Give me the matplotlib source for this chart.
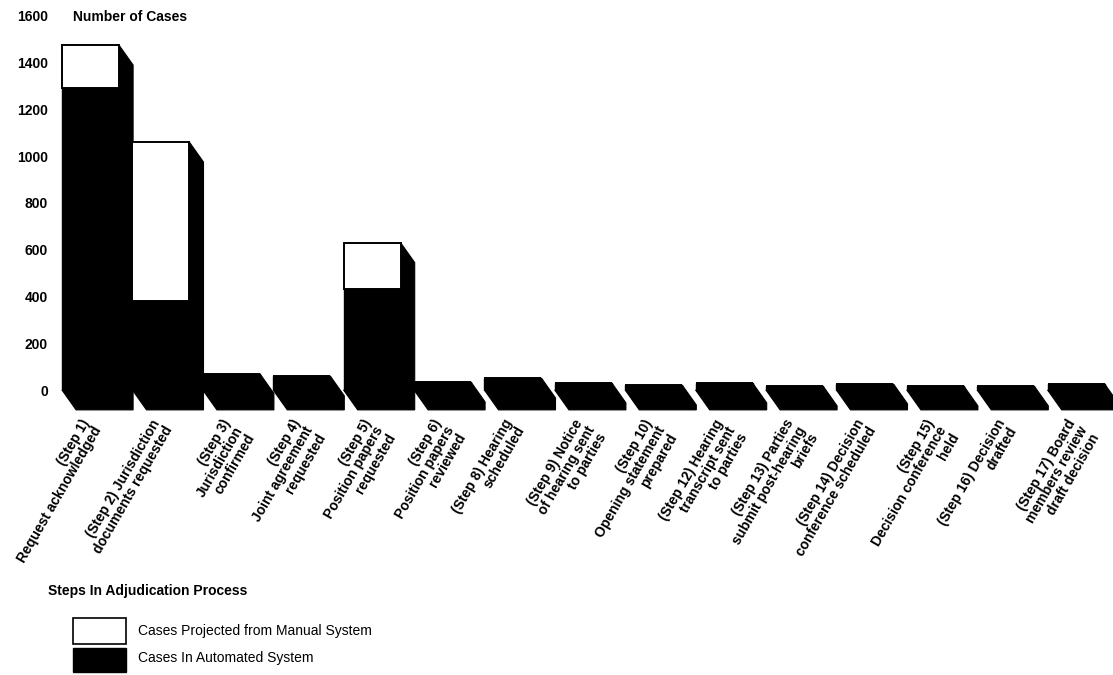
import matplotlib
matplotlib.use("Agg")
import matplotlib.pyplot as plt
from matplotlib.patches import Polygon, Rectangle
from matplotlib.transforms import ScaledTranslation

plt.rcParams['font.family'] = ['Liberation Sans', 'DejaVu Sans']

# Steps in the adjudication process
steps = [
    "(Step 1)\nRequest acknowledged",
    "(Step 2) Jurisdiction\ndocuments requested",
    "(Step 3)\nJurisdiction\nconfirmed",
    "(Step 4)\nJoint agreement\nrequested",
    "(Step 5)\nPosition papers\nrequested",
    "(Step 6)\nPosition papers\nreviewed",
    "(Step 8) Hearing\nscheduled",
    "(Step 9) Notice\nof hearing sent\nto parties",
    "(Step 10)\nOpening statement\nprepared",
    "(Step 12) Hearing\ntranscript sent\nto parties",
    "(Step 13) Parties\nsubmit post-hearing\nbriefs",
    "(Step 14) Decision\nconference scheduled",
    "(Step 15)\nDecision conference\nheld",
    "(Step 16) Decision\ndrafted",
    "(Step 17) Board\nmembers review\ndraft decision",
]

# Cases in the automated system
automated = [1290, 380, 70, 60, 430, 34, 51, 30, 21, 30, 17, 26, 17, 17, 26]
# Cases projected from the manual system (total bar height)
manual_projected = [1475, 1060, 70, 60, 630, 34, 51, 30, 21, 30, 17, 26, 17, 17, 26]

y_ticks = [0, 200, 400, 600, 800, 1000, 1200, 1400, 1600]

W, H = 1113, 675
fig = plt.figure(figsize=(W / 100, H / 100), dpi=100)
ax = fig.add_axes([52 / W, (H - 420) / H, 1061 / W, 410 / H])

bar_w = 0.81
depth_dx = 0.2      # oblique depth, x units
depth_dy = 85.0     # oblique depth, y units (downwards)

x = list(range(len(steps)))

# front faces
ax.bar(x, automated, width=bar_w, color="black", edgecolor="black", linewidth=1.0, zorder=3)
extra = [m - a for m, a in zip(manual_projected, automated)]
ax.bar(x, extra, bottom=automated, width=bar_w, color="white",
       edgecolor="black", linewidth=1.4, zorder=3)

# oblique side and underside of each bar
for xi, top in zip(x, manual_projected):
    x0, x1 = xi - bar_w / 2, xi + bar_w / 2
    pts = [(x0, 0), (x0 + depth_dx, -depth_dy), (x1 + depth_dx, -depth_dy),
           (x1 + depth_dx, top - depth_dy), (x1, top), (x1, 0)]
    ax.add_patch(Polygon(pts, closed=True, facecolor="black", edgecolor="black",
                         linewidth=0.8, zorder=2))

ax.set_xlim(-0.547, 14.524)
ax.set_ylim(-128.3, 1625.3)

for s in ax.spines.values():
    s.set_visible(False)

ax.set_yticks(y_ticks)
ax.set_yticklabels([str(v) for v in y_ticks], fontsize=10, fontweight="bold")
ax.tick_params(axis="y", length=0, pad=3)

ax.set_xticks(x)
ax.set_xticklabels(steps, fontsize=10, fontweight="bold", rotation=60,
                   ha="right", va="top", rotation_mode="anchor", linespacing=1.0)
ax.tick_params(axis="x", length=0, pad=0)
offset = ScaledTranslation(-10 / 100, 3 / 100, fig.dpi_scale_trans)
for lab in ax.get_xticklabels():
    lab.set_transform(lab.get_transform() + offset)

fig.text(73 / W, 1 - 17 / H, "Number of Cases", fontsize=10, fontweight="bold",
         ha="left", va="center")

# legend
fig.text(48 / W, 1 - 591 / H, "Steps In Adjudication Process", fontsize=10,
         fontweight="bold", ha="left", va="center")
fig.add_artist(Rectangle((73 / W, 1 - 644 / H), 53 / W, 26 / H,
                         transform=fig.transFigure, facecolor="white",
                         edgecolor="black", linewidth=1.2))
fig.add_artist(Rectangle((73 / W, 1 - 672 / H), 53 / W, 24 / H,
                         transform=fig.transFigure, facecolor="black",
                         edgecolor="black", linewidth=1.0))
fig.text(138 / W, 1 - 631 / H, "Cases Projected from Manual System", fontsize=10,
         ha="left", va="center")
fig.text(138 / W, 1 - 658 / H, "Cases In Automated System", fontsize=10,
         ha="left", va="center")

fig.savefig("out.png", dpi=100)
